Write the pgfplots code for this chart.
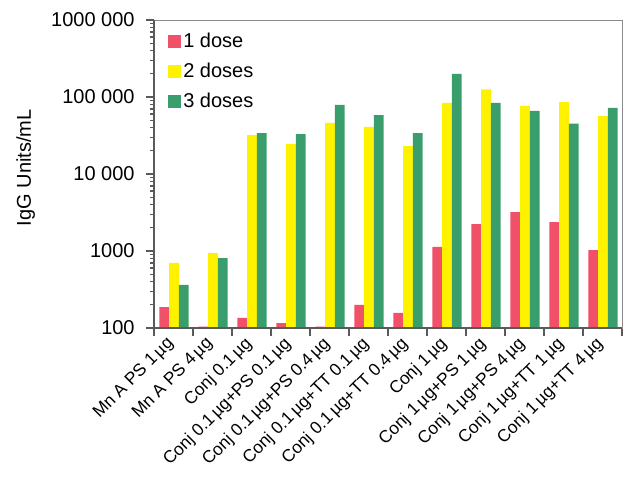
\documentclass[border=0pt]{standalone}
\usepackage{pgfplots}
\pgfplotsset{compat=1.18}
\usepackage{fontspec}
\setmainfont{Liberation Sans}

\definecolor{dose1}{RGB}{240,80,104}
\definecolor{dose2}{RGB}{255,242,0}
\definecolor{dose3}{RGB}{58,158,108}
\definecolor{spine}{RGB}{90,90,90}

\begin{document}
\begin{tikzpicture}[font=\fontsize{15}{18}\selectfont]
  \begin{axis}[
      name=ax,
      scale only axis,
      width=351pt, height=231pt,
      ymode=log,
      log origin y=infty,
      ymin=100, ymax=1000000,
      xmin=-0.5, xmax=11.5,
      ybar,
      bar width=0.25,
      ytick={100,1000,10000,100000,1000000},
      yticklabels={100,1000,10~000,100~000,1000~000},
      yticklabel style={xshift=-5pt},
      minor ytick={},
      xtick={-0.5,0.5,...,11.5},
      xticklabels={},
      extra x ticks={0,1,...,11},
      extra x tick labels={Mn A PS 1\,µg,Mn A PS 4\,µg,Conj 0.1\,µg,
        Conj 0.1\,µg+PS 0.1\,µg,Conj 0.1\,µg+PS 0.4\,µg,
        Conj 0.1\,µg+TT 0.1\,µg,Conj 0.1\,µg+TT 0.4\,µg,Conj 1\,µg,
        Conj 1\,µg+PS 1\,µg,Conj 1\,µg+PS 4\,µg,Conj 1\,µg+TT 1\,µg,
        Conj 1\,µg+TT 4\,µg},
      extra x tick style={major tick length=0pt,
        xticklabel style={xshift=-6pt, yshift=-4pt, rotate=45,
          anchor=north east, inner sep=1pt,
          font=\fontsize{13}{15}\selectfont}},
      tick align=outside,
      xtick pos=bottom, ytick pos=left,
      major tick length=6pt,
      tick style={spine, line width=0.9pt},
      axis line style={spine!70, line width=0.6pt},
      ylabel={IgG Units/mL},
      ylabel style={at={(axis description cs:-0.274,0.52)}, anchor=center},
      legend style={at={(0.02,0.975)}, anchor=north west, draw=none,
        fill=none, row sep=6pt, font=\fontsize{15}{18}\selectfont,
        /tikz/every even column/.append style={column sep=4pt}},
      legend cell align=left,
      legend image code/.code={
        \fill[#1] (0pt,-4.9pt) rectangle (9.75pt,4.9pt);},
    ]
    \addplot[draw=none, fill=dose1, bar shift=-0.24] coordinates {
      (0,187) (1,104) (2,135) (3,116) (4,104) (5,200)
      (6,157) (7,1130) (8,2240) (9,3200) (10,2380) (11,1030)
    };
    \addlegendentry{1 dose}
    \addplot[draw=none, fill=dose2, bar shift=0.01] coordinates {
      (0,700) (1,940) (2,32000) (3,24500) (4,46000) (5,41000)
      (6,23000) (7,84000) (8,126000) (9,77000) (10,86000) (11,56500)
    };
    \addlegendentry{2 doses}
    \addplot[draw=none, fill=dose3, bar shift=0.26] coordinates {
      (0,363) (1,810) (2,34000) (3,33000) (4,79000) (5,58000)
      (6,34000) (7,199000) (8,84000) (9,66000) (10,45000) (11,72000)
    };
    \addlegendentry{3 doses}
  \end{axis}
  \draw[spine, line width=1.2pt] (ax.south west) -- (ax.north west);
  \draw[spine, line width=1.2pt] (ax.south west) -- (ax.south east);
  \pgfresetboundingbox
  \path ([xshift=-115.5pt, yshift=-114.75pt]ax.south west)
    rectangle ([xshift=3.75pt, yshift=15pt]ax.north east);
\end{tikzpicture}
\end{document}
